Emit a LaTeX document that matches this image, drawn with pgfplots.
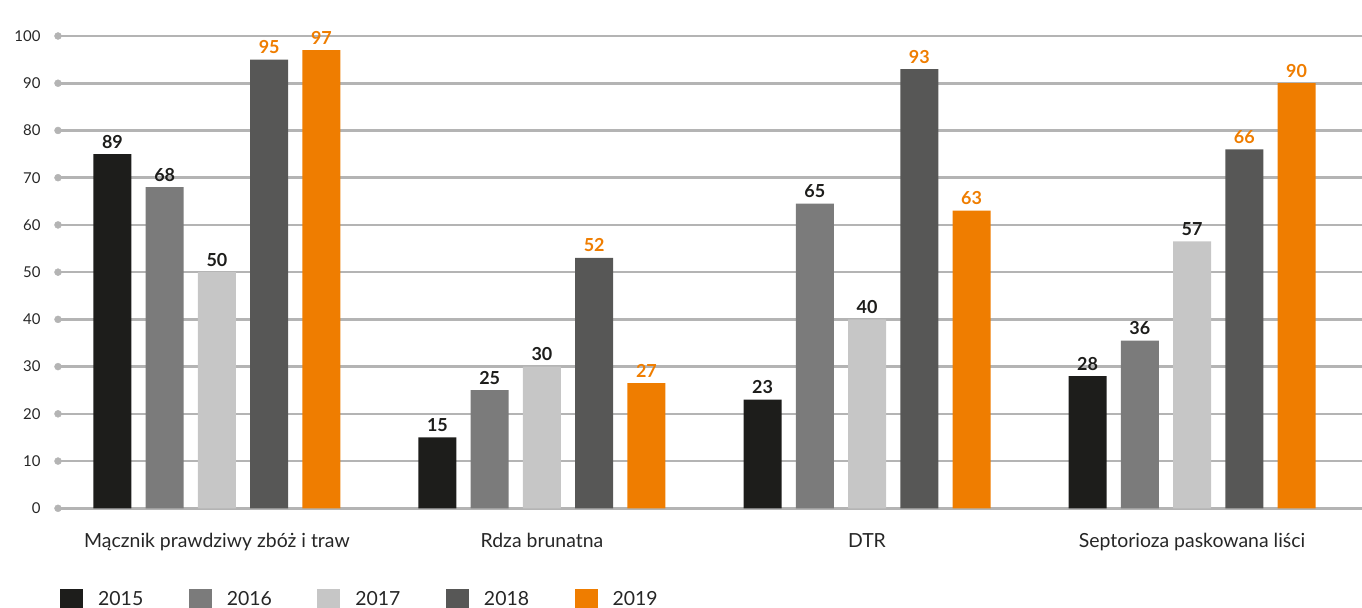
\documentclass[border=0pt]{standalone}
\usepackage{pgfplots}
\pgfplotsset{compat=1.18}
\usepackage{fontspec}
\setmainfont{Lato}

\definecolor{c15}{HTML}{1D1D1B}
\definecolor{c16}{HTML}{7B7B7B}
\definecolor{c17}{HTML}{C6C6C6}
\definecolor{c18}{HTML}{575756}
\definecolor{c19}{HTML}{EF7D00}
\definecolor{gridc}{HTML}{B4B4B4}
\definecolor{txt}{HTML}{262626}

\begin{document}
\begin{tikzpicture}
\begin{axis}[
    scale only axis,
    width=1304bp, height=472.3bp,
    xmin=-0.489, xmax=3.523,
    ymin=0, ymax=100,
    clip=false,
    axis line style={draw=none},
    major tick length=0pt,
    ytick={0,10,...,100},
    xtick={0,1,2,3},
    xticklabels={Mącznik prawdziwy zbóż i traw, Rdza brunatna, DTR, Septorioza paskowana liści},
    /pgf/number format/assume math mode=true,
    ymajorgrids,
    grid style={gridc, line width=2.6bp},
    tick label style={text=txt},
    yticklabel style={font=\fontsize{15}{18}\selectfont, anchor=east, xshift=-14bp},
    xticklabel style={font=\fontsize{19.5}{23}\selectfont, anchor=base, yshift=-39bp},
    every node near coord/.append style={font=\bfseries\fontsize{18}{21}\selectfont,
        inner sep=0pt, anchor=base, yshift=6bp},
    legend columns=-1,
    legend cell align=left,
    legend image code/.code={\fill[#1] (0bp,-11bp) rectangle (23bp,11bp);},
    legend style={at={(axis description cs:0,0)}, anchor=north west,
        xshift=2bp, yshift=-80bp, draw=none, fill=none, inner sep=0pt,
        font=\fontsize{19.5}{24}\selectfont, text=txt,
        nodes={inner sep=0pt},
        /tikz/every odd column/.append style={column sep=15bp},
        /tikz/every even column/.append style={column sep=30.6bp}},
]
\addplot[ybar, bar width=38bp, bar shift=-104.5bp, fill=c15, draw=none,
    point meta=explicit symbolic, nodes near coords,
    every node near coord/.append style={text=c15, xshift=-104.5bp}]
    coordinates {(0,75) [89] (1,15) [15] (2,23) [23] (3,28) [28]};
\addplot[ybar, bar width=38bp, bar shift=-52.25bp, fill=c16, draw=none,
    point meta=explicit symbolic, nodes near coords,
    every node near coord/.append style={text=c15, xshift=-52.25bp}]
    coordinates {(0,68) [68] (1,25) [25] (2,64.5) [65] (3,35.5) [36]};
\addplot[ybar, bar width=38bp, bar shift=0bp, fill=c17, draw=none,
    point meta=explicit symbolic, nodes near coords,
    every node near coord/.append style={text=c15}]
    coordinates {(0,50) [50] (1,30) [30] (2,40) [40] (3,56.5) [57]};
\addplot[ybar, bar width=38bp, bar shift=52.25bp, fill=c18, draw=none,
    point meta=explicit symbolic, nodes near coords,
    every node near coord/.append style={text=c19, xshift=52.25bp}]
    coordinates {(0,95) [95] (1,53) [52] (2,93) [93] (3,76) [66]};
\addplot[ybar, bar width=38bp, bar shift=104.5bp, fill=c19, draw=none,
    point meta=explicit symbolic, nodes near coords,
    every node near coord/.append style={text=c19, xshift=104.5bp}]
    coordinates {(0,97) [97] (1,26.5) [27] (2,63) [63] (3,90) [90]};
\legend{\makebox[60bp][l]{2015}, \makebox[60bp][l]{2016}, \makebox[60bp][l]{2017},
    \makebox[60bp][l]{2018}, \makebox[60bp][l]{2019}}
\addplot[forget plot, only marks, mark=*, mark size=3.5bp, gridc]
    coordinates {(-0.489,0) (-0.489,10) (-0.489,20) (-0.489,30) (-0.489,40) (-0.489,50)
    (-0.489,60) (-0.489,70) (-0.489,80) (-0.489,90) (-0.489,100)};
\end{axis}
\pgfresetboundingbox
\useasboundingbox (-58bp,-99.7bp) rectangle (1304bp,508.3bp);
\end{tikzpicture}
\end{document}
